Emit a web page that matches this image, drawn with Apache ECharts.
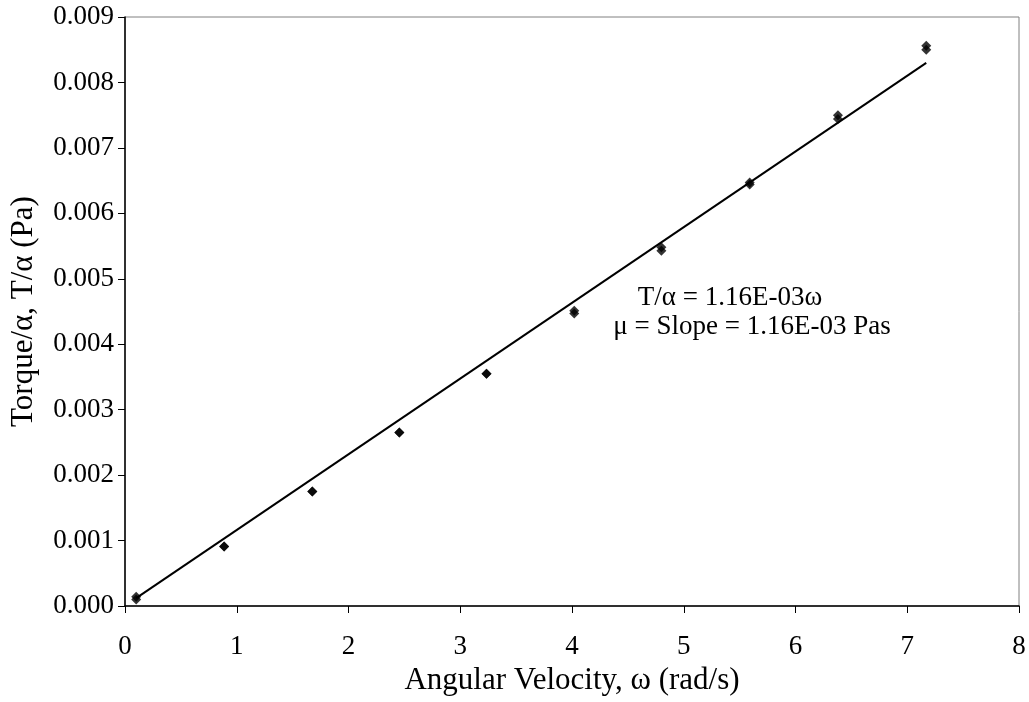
<!DOCTYPE html>
<html>
<head>
<meta charset="utf-8">
<script src="https://cdn.jsdelivr.net/npm/echarts@6/dist/echarts.min.js"></script>
<style>
html,body{margin:0;padding:0;background:#fff;}
#chart{width:1029px;height:702px;}
</style>
</head>
<body>
<div id="chart"></div>
<script>
// Data
const omega = [0.10, 0.887, 1.676, 2.455, 3.235, 4.02, 4.80, 5.59, 6.38, 7.17];
const trialA = [0.00010, 0.00091, 0.00175, 0.00265, 0.00355, 0.00447, 0.00543, 0.00644, 0.00744, 0.00850];
const trialB = [0.00014, 0.00091, 0.00175, 0.00265, 0.00355, 0.00451, 0.00548, 0.00647, 0.00750, 0.00856];
const trendX = [0.10, 7.17];
const trendY = [0.00012, 0.00830];
const xTicks = [0, 1, 2, 3, 4, 5, 6, 7, 8];
const yTicks = ['0.000','0.001','0.002','0.003','0.004','0.005','0.006','0.007','0.008','0.009'];
const annot1 = 'T/α = 1.16E-03ω';
const annot2 = 'μ = Slope = 1.16E-03 Pas';
const xTitle = 'Angular Velocity, ω (rad/s)';
const yTitle = 'Torque/α, T/α (Pa)';

const font = '"Liberation Serif", "Times New Roman", serif';
const chart = echarts.init(document.getElementById('chart'), null, {renderer: 'canvas'});

const ptsA = omega.map((x, i) => [x, trialA[i]]);
const ptsB = omega.map((x, i) => [x, trialB[i]]);
const trend = trendX.map((x, i) => [x, trendY[i]]);

chart.setOption({
  animation: false,
  backgroundColor: '#fff',
  grid: {left: 125, top: 17, right: 10, bottom: 96, outerBoundsMode: 'none', containLabel: false,
         show: true, borderColor: '#808080', borderWidth: 1, backgroundColor: 'transparent'},
  xAxis: {
    type: 'value', min: 0, max: 8, interval: 1,
    name: xTitle, nameLocation: 'middle', nameGap: 53,
    nameTextStyle: {fontFamily: font, fontSize: 31, color: '#000'},
    axisLine: {show: true, onZero: false, lineStyle: {color: '#000', width: 1.5}},
    axisTick: {show: true, inside: false, length: 7, lineStyle: {color: '#000', width: 1}},
    axisLabel: {fontFamily: font, fontSize: 27, color: '#000', margin: 27,
      formatter: v => String(xTicks[Math.round(v)])},
    splitLine: {show: false}
  },
  yAxis: {
    type: 'value', min: 0, max: 0.009, interval: 0.001,
    name: yTitle, nameLocation: 'middle', nameGap: 86, nameRotate: 90,
    nameTextStyle: {fontFamily: font, fontSize: 31, color: '#000'},
    axisLine: {show: true, onZero: false, lineStyle: {color: '#000', width: 1.5}},
    axisTick: {show: true, inside: false, length: 7, lineStyle: {color: '#000', width: 1}},
    axisLabel: {fontFamily: font, fontSize: 27, color: '#000', margin: 11,
      formatter: v => yTicks[Math.round(v / 0.001)]},
    splitLine: {show: false}
  },
  series: [
    {type: 'line', data: trend, showSymbol: false, symbol: 'none',
     lineStyle: {color: '#000', width: 2}, z: 2},
    {type: 'scatter', data: ptsA, symbol: 'diamond', symbolSize: 10,
     itemStyle: {color: '#000'}, z: 3},
    {type: 'scatter', data: ptsB, symbol: 'diamond', symbolSize: 10,
     itemStyle: {color: '#000'}, z: 3}
  ],
  graphic: [
    {type: 'text', x: 730, y: 298, style: {text: annot1, font: '27px ' + font, fill: '#000', align: 'center', verticalAlign: 'middle'}},
    {type: 'text', x: 752, y: 327, style: {text: annot2, font: '27px ' + font, fill: '#000', align: 'center', verticalAlign: 'middle'}}
  ]
});
</script>
</body>
</html>
